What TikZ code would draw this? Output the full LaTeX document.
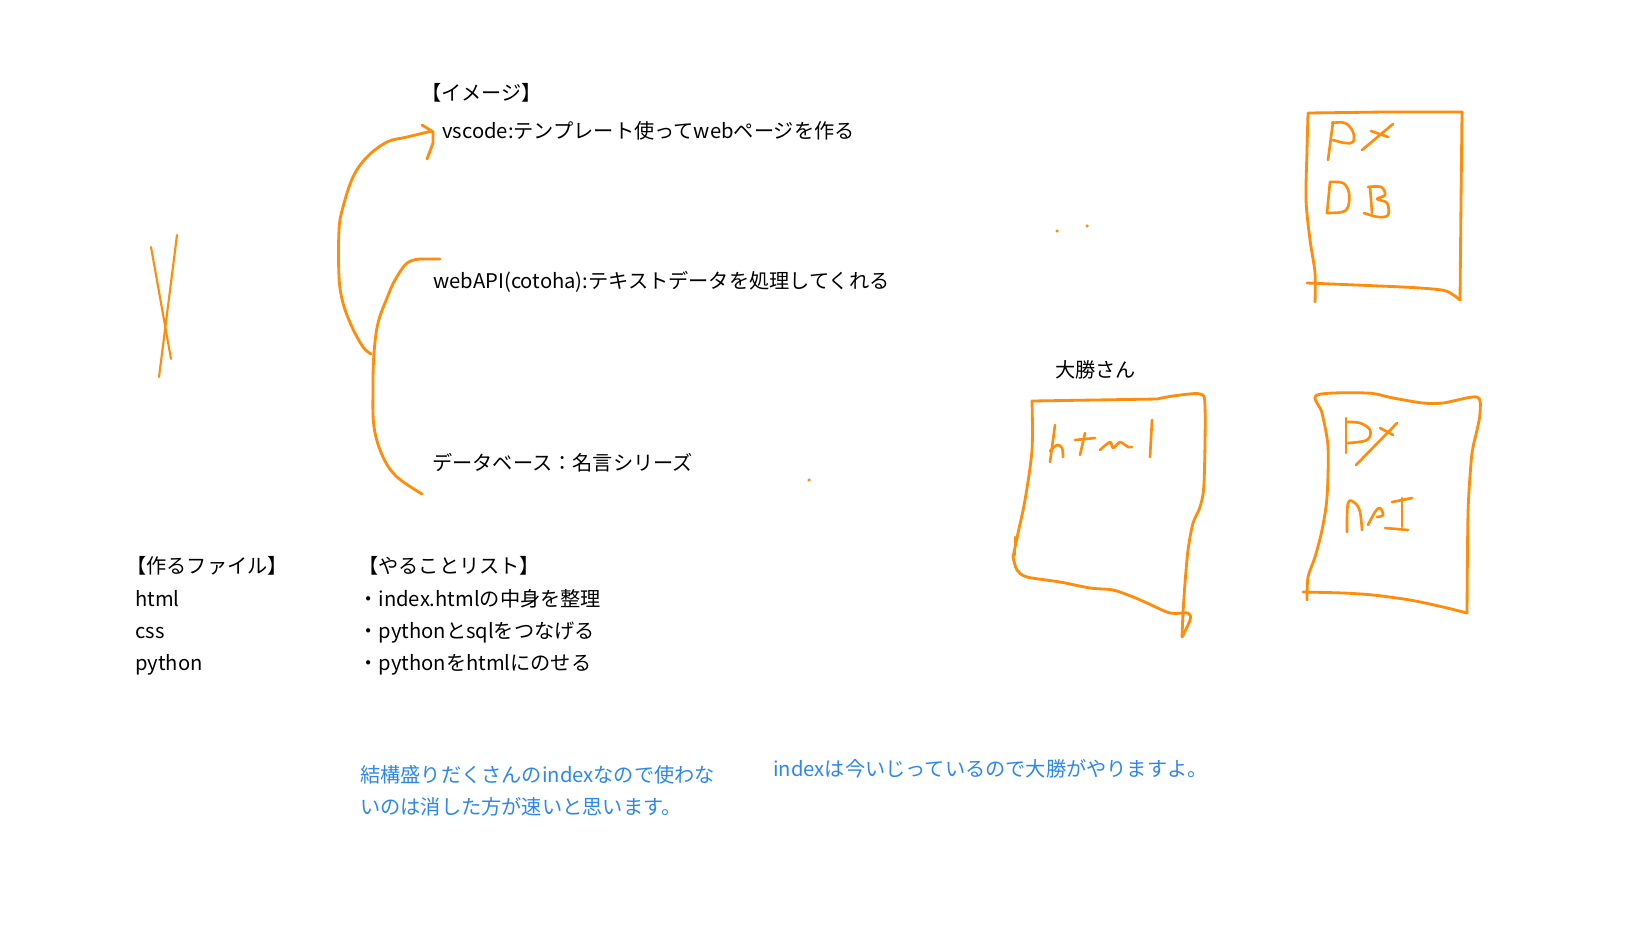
\documentclass[tikz,border=0pt]{standalone}
\usepackage{fontspec}
\setmainfont{Noto Sans CJK JP}
\definecolor{penorange}{RGB}{255,140,10}
\definecolor{replyblue}{RGB}{45,135,235}

\begin{document}
\begin{tikzpicture}[x=0.02cm, y=-0.02cm, memo/.style={anchor=west, inner sep=0pt, align=left, font=\fontsize{11.5pt}{18.4pt}\selectfont}, reply/.style={memo, text=replyblue, font=\fontsize{11.5pt}{18.1pt}\selectfont}, pen/.style={draw=penorange, line width=1.6pt, line cap=round, line join=round}, scrawl/.style={pen, line width=1.5pt}, speck/.style={fill=penorange, inner sep=0pt, minimum size=2pt, circle}]
\useasboundingbox (0,0) rectangle (1648,927);

% typed notes
\node[memo] (image) at (421,93) {【イメージ】};
\node[memo] (vscode) at (442,131) {vscode:テンプレート使ってwebページを作る};
\node[memo] (webapi) at (433,282) {webAPI(cotoha):テキストデータを処理してくれる};
\node[memo] (database) at (432,463) {データベース：名言シリーズ};
\node[memo] (ohkatsu) at (1055,370) {大勝さん};
\node[memo] (files) at (126,616) {【作るファイル】\\\hspace*{0.18cm}html\\\hspace*{0.18cm}css\\\hspace*{0.18cm}python};
\node[memo] (todo) at (358,616) {【やることリスト】\\・index.htmlの中身を整理\\・pythonとsqlをつなげる\\・pythonをhtmlにのせる};
\node[reply] (note) at (360,791) {結構盛りだくさんのindexなので使わな\\いのは消した方が速いと思います。};
\node[reply] (answer) at (773,769) {indexは今いじっているので大勝がやりますよ。};

% pen strokes
\coordinate (fork) at (371,354);
\coordinate (tip) at ([xshift=-0.2cm]vscode.west);
\coordinate (hook) at ([xshift=0.14cm]webapi.west |- 0,259);
\coordinate (tail) at (422,494);
\draw[pen, line width=1.2pt] (151,247) -- (171,359);
\draw[pen, line width=1.2pt] (177,235) -- (159,377);
\draw[pen] plot[smooth, tension=0.6] coordinates {(fork) (363,347) (352,327) (343,303) (339,277) (339,230) (343,207) (353,177) (367,157) (387,142) (407,137) (tip)};
\draw[pen] (422,125) -- (433,132) -- (433,143) -- (427,159);
\draw[pen] (hook) -- (420,259) plot[smooth, tension=0.6] coordinates {(420,259) (407,263) (395,280) (387,298) (378,323) (374,353) (373,387) (374,427) (383,457) (397,477) (tail)};

% Py DB
\draw[pen] plot[smooth, tension=0.5] coordinates {(1315,302) (1315,273) (1310,240) (1306,200) (1307,150) (1308,113)} -- (1385,112) -- (1462,112) -- (1461,200) -- (1460,300);
\draw[pen] plot[smooth, tension=0.5] coordinates {(1460,300) (1446,291) (1420,288) (1380,286) (1307,283)};
\draw[scrawl] (1333,122) -- (1328,160);
\draw[scrawl] plot[smooth, tension=0.6] coordinates {(1332,123) (1345,123) (1353,132) (1353,142) (1345,143) (1333,140)};
\draw[scrawl] (1371,131) -- (1388,137);
\draw[scrawl] (1362,150) -- (1393,124);
\draw[scrawl] (1330,182) -- (1327,213);
\draw[scrawl] plot[smooth, tension=0.6] coordinates {(1330,182) (1343,183) (1349,193) (1348,207) (1342,212) (1327,213)};
\draw[scrawl] (1370,187) -- (1372,213);
\draw[scrawl] plot[smooth, tension=0.6] coordinates {(1368,187) (1381,187) (1385,195) (1377,199) (1387,203) (1388,215) (1378,217) (1364,213)};

% html
\draw[pen] (1015,537) -- (1015,555);
\draw[pen] plot[smooth, tension=0.5] coordinates {(1013,557) (1018,533) (1025,500) (1032,450) (1032,401)} -- (1157,399) plot[smooth, tension=0.5] coordinates {(1157,399) (1173,396) (1200,394) (1205,407) (1204,483) (1200,507) (1193,523) (1188,550) (1185,583) (1183,613) (1182,637)};
\draw[pen] plot[smooth, tension=0.5] coordinates {(1182,637) (1190,620) (1188,613) (1170,613) (1147,603) (1133,597) (1113,590) (1090,588) (1060,582) (1027,577) (1017,570) (1013,557)};
\draw[scrawl] (1055,425) -- (1050,462);
\draw[scrawl] plot[smooth, tension=0.6] coordinates {(1050,451) (1057,445) (1062,448) (1063,457)};
\draw[scrawl] (1075,440) -- (1095,438);
\draw[scrawl] (1085,433) -- (1080,455);
\draw[scrawl] plot[smooth, tension=0.5] coordinates {(1100,450) (1110,442) (1113,448) (1120,442) (1125,445) (1128,447) (1132,447)};
\draw[scrawl] (1152,420) -- (1150,457);

% Py API
\draw[pen] plot[smooth, tension=0.5] coordinates {(1307,600) (1308,577) (1315,557) (1322,530) (1327,497) (1328,447) (1322,413) (1317,395) (1367,393) (1393,398) (1423,403) (1443,403) (1477,397) (1480,413) (1477,430) (1473,447) (1471,463) (1468,513) (1467,613)};
\draw[pen] plot[smooth, tension=0.5] coordinates {(1467,613) (1443,607) (1410,600) (1373,595) (1343,593) (1303,592)};
\draw[scrawl] (1346,418) -- (1346,453);
\draw[scrawl] plot[smooth, tension=0.6] coordinates {(1347,422) (1360,423) (1370,430) (1367,440) (1348,443)};
\draw[scrawl] (1397,423) -- (1356,465);
\draw[scrawl] (1380,428) -- (1393,435);
\draw[scrawl] plot[smooth, tension=0.6] coordinates {(1347,532) (1348,503) (1355,503) (1360,512) (1362,530)};
\draw[scrawl] plot[smooth, tension=0.6] coordinates {(1368,525) (1375,512) (1380,508) (1383,515) (1377,517)};
\draw[scrawl] (1392,502) -- (1412,498);
\draw[scrawl] (1402,498) -- (1402,527);
\draw[scrawl] (1385,528) -- (1408,530);

% stray specks
\node[speck] (speck1) at (1057,231) {};
\node[speck] (speck2) at (1087,226) {};
\node[speck] (speck3) at (809,480) {};
\end{tikzpicture}
\end{document}
